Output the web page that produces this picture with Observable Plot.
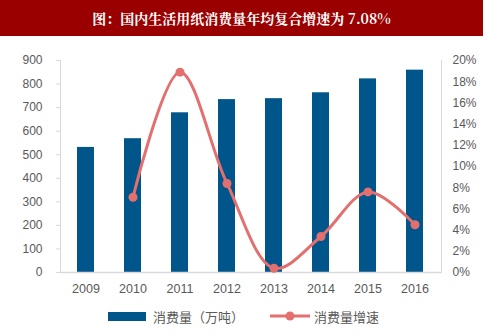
<!DOCTYPE html>
<html><head><meta charset="utf-8">
<script src="https://cdn.jsdelivr.net/npm/d3@7"></script>
<script src="https://cdn.jsdelivr.net/npm/@observablehq/plot@0.6"></script>
<style>
body{margin:0;background:#fff;width:491px;height:336px;position:relative;overflow:hidden;font-family:"Liberation Sans",Arial,sans-serif;}
#banner{position:absolute;left:0;top:0;width:483px;height:36px;background:#9a0000;color:#fff;font:bold 14px "Noto Serif CJK SC","Noto Sans CJK SC",serif;display:flex;align-items:center;justify-content:center;}
#chart{position:absolute;left:0;top:36px;}
#legend{position:absolute;left:0;top:304px;width:491px;height:24px;font:13px "Noto Sans CJK SC",sans-serif;color:#595959;}
.li{position:absolute;top:0;display:flex;align-items:center;height:24px;}
</style></head>
<body>
<div id="banner">图：国内生活用纸消费量年均复合增速为 7.08%</div>
<div id="chart"></div>
<div id="legend">
  <div class="li" style="left:108px"><span style="display:inline-block;width:38px;height:9px;background:#00558a;margin-right:7px"></span>消费量（万吨）</div>
  <div class="li" style="left:270px"><svg width="42" height="12" style="margin-right:2px"><line x1="0" y1="6" x2="40" y2="6" stroke="#e36f6f" stroke-width="3"/><circle cx="20" cy="6" r="4.5" fill="#e36f6f"/></svg>消费量增速</div>
</div>
<script>
const years = ["2009","2010","2011","2012","2013","2014","2015","2016"];
const volume = [531, 568, 678, 734, 738, 763, 822, 859];
const growthYears = ["2010","2011","2012","2013","2014","2015","2016"];
const growth = [7.1, 18.9, 8.4, 0.4, 3.4, 7.6, 4.5];
const leftTicks = [0,100,200,300,400,500,600,700,800,900];
const rightTicks = [0,2,4,6,8,10,12,14,16,18,20];

const yMax = 900, gMax = 20;
const toLeft = g => g / gMax * yMax;
const bars = years.map((y,i) => ({year:y, v:volume[i]}));
const line = growthYears.map((y,i) => ({year:y, g:toLeft(growth[i])}));

const chart = Plot.plot({
  width: 491, height: 264,
  marginTop: 24, marginBottom: 28, marginLeft: 60, marginRight: 50,
  style: {fontFamily: '"Liberation Sans", Arial, sans-serif', fontSize: "12px", color: "#595959"},
  x: {type: "band", domain: years, paddingInner: 0.63, paddingOuter: 0.315, axis: null, label: null},
  y: {domain: [0, yMax], axis: null, label: null},
  marks: [
    Plot.axisX({tickSize: 0, tickPadding: 12, fontSize: 12.5, label: null}),
    Plot.axisY({anchor: "left", ticks: leftTicks, tickSize: 4, tickPadding: 14, stroke: "#d9d9d9", tickFormat: d => d, label: null}),
    Plot.axisY({anchor: "right", ticks: rightTicks.map(toLeft), tickSize: 0, tickPadding: 11, textAnchor: "start", tickFormat: d => Math.round(d / yMax * gMax) + "%", label: null}),
    Plot.barY(bars, {x: "year", y: "v", fill: "#00558a"}),
    Plot.frame({anchor: "left", stroke: "#d9d9d9"}),
    Plot.frame({anchor: "right", stroke: "#d9d9d9"}),
    Plot.ruleY([0], {stroke: "#d9d9d9", strokeWidth: 1.5}),
    Plot.line(line, {x: "year", y: "g", stroke: "#e36f6f", strokeWidth: 3, curve: "catmull-rom"}),
    Plot.dot(line, {x: "year", y: "g", fill: "#e36f6f", r: 4.5})
  ]
});
document.getElementById("chart").appendChild(chart);
</script>
</body></html>
